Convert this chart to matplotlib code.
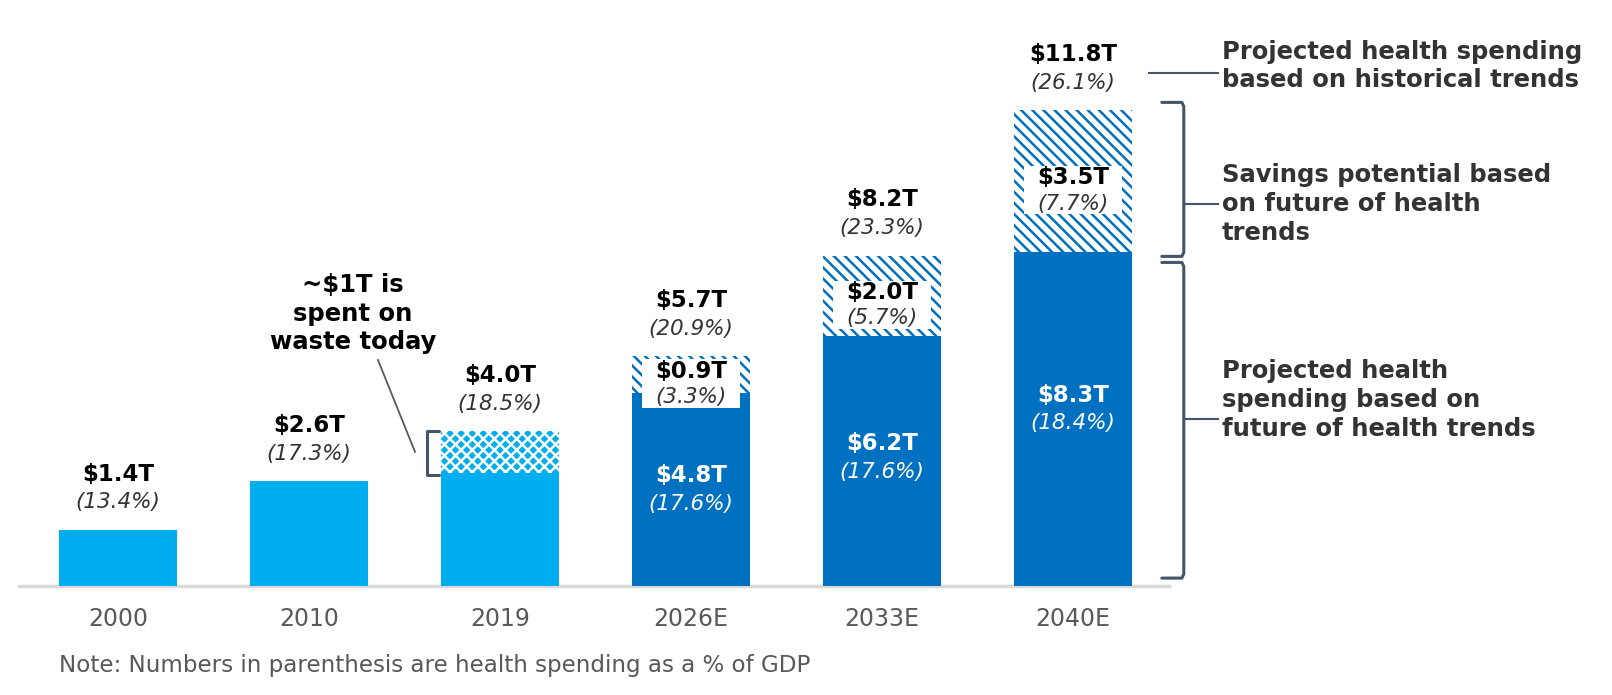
import numpy as np
import matplotlib.pyplot as plt
from matplotlib.patches import Rectangle

plt.rcParams['font.family'] = ['DejaVu Sans']
plt.rcParams['hatch.linewidth'] = 1.8

# health spending, $ trillions
years = ["2000", "2010", "2019", "2026E", "2033E", "2040E"]
base = [1.4, 2.6, 2.8, 4.8, 6.2, 8.3]          # solid part
extra = [0.0, 0.0, 1.05, 0.9, 2.0, 3.5]        # waste (2019) / savings potential
tot_lbl = ["$1.4T", "$2.6T", "$4.0T", "$5.7T", "$8.2T", "$11.8T"]
tot_pct = ["(13.4%)", "(17.3%)", "(18.5%)", "(20.9%)", "(23.3%)", "(26.1%)"]
base_lbl = ["", "", "", "$4.8T", "$6.2T", "$8.3T"]
base_pct = ["", "", "", "(17.6%)", "(17.6%)", "(18.4%)"]
save_lbl = ["", "", "", "$0.9T", "$2.0T", "$3.5T"]
save_pct = ["", "", "", "(3.3%)", "(5.7%)", "(7.7%)"]

light = "#00AEEF"
dark = "#0070C0"
brk = "#44546A"
txt = "#333333"

fig = plt.figure(figsize=(16.12, 6.95), dpi=100)
ax = fig.add_axes([0, 0, 1, 1])
ax.set_xlim(-0.618, 7.822)
ax.set_ylim(-2.70, 14.54)
ax.axis('off')

x = np.arange(len(years))
w = 0.62
cols = [light] * 3 + [dark] * 3
ax.bar(x, base, w, color=cols, lw=0, zorder=2)

# 2019 waste part
ax.bar(x[2], extra[2], w, bottom=base[2], color=light, edgecolor="white",
       hatch="xxx", lw=0, zorder=2)
# savings potential
ax.bar(x[3:], extra[3:], w, bottom=base[3:], color="white", edgecolor=dark,
       hatch="\\\\\\", lw=0, zorder=2)

ax.plot([-0.518, 5.503], [0, 0], color="#D9D9D9", lw=2.5, zorder=1)

tops = [b + e for b, e in zip(base, extra)]
for i in range(len(years)):
    ax.text(x[i], -0.82, years[i], ha="center", va="center", fontsize=17, color="#595959")
    ax.text(x[i], tops[i] + 1.38, tot_lbl[i], ha="center", va="center",
            fontsize=16.5, fontweight="bold", color="black")
    ax.text(x[i], tops[i] + 0.68, tot_pct[i], ha="center", va="center",
            fontsize=15.5, style="italic", color=txt)
    if base_lbl[i]:
        vy = base[i] * 0.57
        ax.text(x[i], vy, base_lbl[i], ha="center", va="center",
                fontsize=16.5, fontweight="bold", color="white", zorder=4)
        ax.text(x[i], vy - 0.69, base_pct[i], ha="center", va="center",
                fontsize=15.5, style="italic", color="white", zorder=4)
    if save_lbl[i]:
        cy = base[i] + extra[i] / 2 - 0.22
        ax.add_patch(Rectangle((x[i] - w / 2 + 0.052, cy - 0.6), w - 0.104, 1.2,
                               fc="white", lw=0, zorder=3))
        ax.text(x[i], cy + 0.3, save_lbl[i], ha="center", va="center",
                fontsize=16.5, fontweight="bold", color="black", zorder=4)
        ax.text(x[i], cy - 0.34, save_pct[i], ha="center", va="center",
                fontsize=15.5, style="italic", color=txt, zorder=4)

# waste callout
ax.text(1.23, 6.76, "~$1T is\nspent on\nwaste today", ha="center", va="center",
        fontsize=17.5, fontweight="bold", color="black", linespacing=1.22)
ax.plot([1.361, 1.555], [5.61, 3.33], color="#595959", lw=1.3)
bx = x[2] - w / 2 - 0.07
ax.plot([bx + 0.06, bx, bx, bx + 0.06], [tops[2], tops[2], base[2] - 0.05, base[2] - 0.05],
        color=brk, lw=2.2, solid_joinstyle="round", solid_capstyle="round")

# right-hand annotations
rx = x[5] + w / 2
b1_lo, b1_hi = base[5] - 0.12, tops[5] + 0.2
b2_lo, b2_hi = 0.2, base[5] - 0.27
for lo, hi in [(b1_lo, b1_hi), (b2_lo, b2_hi)]:
    ax.plot([rx + 0.155, rx + 0.26, rx + 0.27, rx + 0.27, rx + 0.26, rx + 0.155],
            [hi, hi, hi - 0.1, lo + 0.1, lo, lo],
            color=brk, lw=2.2, solid_joinstyle="round", solid_capstyle="round")

tx = 5.78
ly = tops[5] + 0.93
ax.plot([rx + 0.09, tx - 0.02], [ly, ly], color=brk, lw=1.5)
ax.text(tx, ly + 0.17, "Projected health spending\nbased on historical trends", ha="left",
        va="center", fontsize=17.5, fontweight="bold", color=txt, linespacing=1.25)

m1 = 9.48
ax.plot([rx + 0.27, tx - 0.02], [m1, m1], color=brk, lw=1.5)
ax.text(tx, m1, "Savings potential based\non future of health\ntrends", ha="left",
        va="center", fontsize=17.5, fontweight="bold", color=txt, linespacing=1.25)

m2 = 4.14
ax.plot([rx + 0.27, tx - 0.02], [m2, m2], color=brk, lw=1.5)
ax.text(tx, m2 + 0.48, "Projected health\nspending based on\nfuture of health trends", ha="left",
        va="center", fontsize=17.5, fontweight="bold", color=txt, linespacing=1.25)

ax.text(-0.309, -1.96, "Note: Numbers in parenthesis are health spending as a % of GDP",
        ha="left", va="center", fontsize=16.6, color="#595959")

fig.savefig("out.png", dpi=100)
